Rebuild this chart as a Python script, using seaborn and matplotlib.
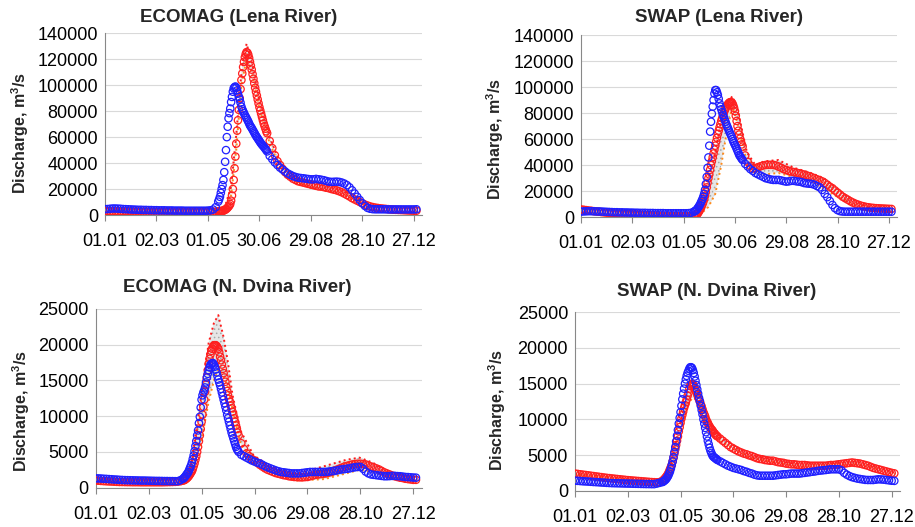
import matplotlib
matplotlib.use("Agg")
import matplotlib.pyplot as plt
import seaborn as sns

# ---------------- data ----------------
# sampling days: every 3rd day, daily around the flood peak
lena_days = list(range(1, 131, 3)) + list(range(133, 191)) + list(range(193, 365, 3))
dvina_days = list(range(1, 98, 3)) + list(range(100, 164)) + list(range(166, 365, 3))

tick_days = [1, 61, 121, 181, 241, 301, 361]
tick_labels = ["01.01", "02.03", "01.05", "30.06", "29.08", "28.10", "27.12"]

titles = ["ECOMAG (Lena River)", "SWAP (Lena River)",
          "ECOMAG (N. Dvina River)", "SWAP (N. Dvina River)"]

# ECOMAG, Lena
lena_ecomag_obs = [
    4500, 4600, 4800, 5000, 5000, 4900, 4800, 4600, 4500, 4400, 4300, 4200, 4100, 4000,
    4000, 3900, 3900, 3800, 3800, 3700, 3700, 3600, 3600, 3600, 3500, 3500, 3500, 3400,
    3400, 3400, 3400, 3300, 3300, 3300, 3300, 3300, 3300, 3300, 3300, 3300,
    3400, 3600, 4200, 6000,
    10300, 12000, 14000, 17000, 20000, 23000, 27000, 33000, 41000, 50000,
    60000, 68000, 74500, 78500, 82000, 87000, 91000, 95000, 97600, 98500,
    99000, 98000, 96000, 93500, 91000, 89000, 86500, 83500, 81500, 80000,
    78500, 77000, 75800, 74600, 73300, 72000, 70500, 69000, 68000, 67000,
    65800, 64600, 63400, 62200, 61000, 60000, 59000, 58000, 57000, 56000,
    55000, 54200, 53400, 52700, 51800, 50900, 50000, 49000,
    45500, 43000, 40500, 38500, 36500, 35000,
    33500, 32000, 31000, 30000, 29300, 28800, 28500, 28300, 28000, 27700,
    27500, 27500, 27800, 27500, 27200, 26800, 26200, 25700, 25500, 25600,
    25700, 25500, 25000, 24200, 23000, 21300, 19000, 16500, 14000, 11500,
    9000, 7000, 5500, 4800,
    4500, 4400, 4400, 4400, 4400, 4400, 4300, 4300, 4300, 4300, 4300, 4300, 4300, 4300,
    4300, 4300, 4300, 4400]
lena_ecomag_sim = [
    3200, 3100, 3000, 3000, 2900, 2900, 2800, 2800, 2700, 2700, 2700, 2600, 2600, 2600,
    2600, 2500, 2500, 2500, 2500, 2500, 2400, 2400, 2400, 2400, 2400, 2400, 2400, 2400,
    2400, 2400, 2400, 2400, 2400, 2400, 2400, 2400, 2400, 2400, 2400, 2400,
    2400, 2400, 2500, 2600,
    2800, 2900, 3000, 3000, 3100, 3200, 3400, 3700, 4000, 4500,
    5000, 5700, 6500, 7300, 8500, 11000, 15000, 20000, 27000, 36000,
    45000, 55000, 65000, 73000, 81000, 90000, 97000, 104000, 109000, 114000,
    118000, 121500, 124000, 125500, 125000, 123500, 121000, 118000, 115000, 112000,
    108500, 105000, 101500, 98000, 95000, 92000, 89000, 86000, 83000, 80500,
    78000, 75500, 73000, 70500, 68500, 66500, 64500, 63000,
    57000, 51500, 46000, 41500, 38500, 35500,
    33000, 31000, 29500, 28000, 27000, 26000, 25500, 25000, 24500, 24000,
    23500, 23000, 22500, 22000, 22000, 21500, 21000, 20600, 20000, 19500,
    19000, 18300, 17500, 16500, 15400, 14300, 13000, 12000, 11000, 10000,
    9000, 8000, 7300, 6600, 6100, 5700, 5400, 5100, 4900, 4700,
    4500, 4300, 4100, 4000, 3900, 3800, 3700, 3600, 3500, 3400, 3300, 3300]
lena_ecomag_band_days = [1, 121, 136, 142, 148, 154, 160, 166, 172, 181, 193, 205, 220,
                         240, 260, 280, 295, 310, 330, 365]
lena_ecomag_upper = [3500, 2800, 4000, 9000, 22000, 62000, 110000, 132000, 118000, 88000,
                     60000, 40000, 29000, 25000, 22000, 18500, 12500, 7000, 4800, 3500]
lena_ecomag_lower = [2800, 2200, 3000, 6000, 15000, 50000, 100000, 120000, 110000, 82000,
                     55000, 37000, 26500, 21000, 18500, 15500, 10500, 6000, 4200, 3000]

# SWAP, Lena
lena_swap_obs = [
    4400, 4500, 4600, 4700, 4700, 4600, 4500, 4500, 4400, 4300, 4200, 4100, 4000, 3900,
    3900, 3800, 3800, 3700, 3700, 3600, 3600, 3500, 3500, 3400, 3400, 3400, 3300, 3300,
    3300, 3200, 3200, 3200, 3200, 3100, 3100, 3100, 3100, 3100, 3100, 3100,
    3100, 3100, 3200, 3500,
    4300, 4700, 5100, 5600, 6500, 7500, 8500, 9500, 11000, 12500,
    14000, 15800, 18000, 21000, 25500, 31000, 38000, 46000, 55000, 65800,
    73400, 79500, 85000, 90000, 95000, 97700, 97700, 96000, 94000, 91000,
    87500, 85000, 83000, 80800, 78600, 76800, 75000, 73300, 71500, 69800,
    68200, 66600, 65000, 63500, 62000, 60200, 58500, 57000, 55600, 54300,
    52700, 51100, 49500, 47900, 46900, 45900, 44900, 44000,
    41000, 39000, 37000, 35600, 34000, 33000,
    32000, 31000, 30000, 29500, 29000, 28700, 28700, 28700, 28300, 27800,
    27400, 27600, 28000, 28000, 27600, 27400, 27000, 26300, 26000, 25800,
    25600, 25000, 24000, 23000, 21000, 18000, 15500, 12500, 9500, 7000,
    5500, 4700, 4400, 4300, 4300, 4300, 4300, 4300, 4300, 4300,
    4300, 4300, 4300, 4300, 4300, 4300, 4300, 4300, 4300, 4300, 4300, 4300]
lena_swap_sim = [
    6000, 5800, 5500, 5200, 5000, 4700, 4500, 4300, 4000, 3800, 3600, 3400, 3200, 3000,
    2900, 2800, 2700, 2600, 2500, 2400, 2300, 2200, 2100, 2000, 1900, 1800, 1700, 1600,
    1500, 1400, 1300, 1200, 1100, 1000, 1000, 900, 900, 800, 800, 800,
    800, 800, 800, 900,
    1200, 1300, 1500, 1800, 2500, 3400, 4500, 5600, 7000, 8500,
    10000, 12000, 14000, 16500, 19500, 23000, 26500, 30000, 33000, 36500,
    40000, 43000, 46000, 49000, 52000, 55000, 58000, 61000, 64000, 66500,
    69000, 71500, 74000, 76000, 78000, 80000, 82000, 83500, 85000, 86000,
    87000, 87800, 88300, 88500, 88300, 87500, 86000, 84000, 81500, 78000,
    74000, 70000, 66500, 63500, 60500, 58000, 56000, 54300,
    47500, 42500, 39500, 37600, 37600, 38500,
    39200, 39800, 40200, 40300, 40300, 40200, 39800, 39000, 38000, 37000,
    36300, 35600, 35100, 34700, 34300, 33800, 33300, 32800, 32200, 31500,
    30800, 30000, 29200, 28500, 27600, 26400, 25000, 23500, 22300, 20600,
    19000, 17400, 15800, 14600, 13500, 12300, 11300, 10400, 9700, 9000,
    8500, 8000, 7700, 7400, 7200, 7000, 6900, 6800, 6700, 6600, 6500, 6400]
lena_swap_band_days = [1, 130, 140, 150, 158, 165, 172, 178, 185, 195, 205, 215, 232,
                       250, 270, 285, 300, 315, 335, 365]
lena_swap_upper = [6500, 1500, 6500, 30000, 50000, 75000, 88000, 93000, 80000, 50000,
                   40000, 43000, 44000, 38000, 34000, 30000, 22000, 15000, 8000, 5500]
lena_swap_lower = [5000, 800, 2000, 8000, 18000, 40000, 68000, 85000, 70000, 42000,
                   33000, 33000, 34000, 31000, 28000, 22000, 16000, 11000, 6000, 4500]

# ECOMAG, N. Dvina
dvina_ecomag_obs = [
    1300, 1300, 1280, 1250, 1230, 1200, 1180, 1150, 1130, 1100, 1080, 1060, 1050, 1040,
    1030, 1020, 1010, 1000, 1000, 990, 980, 970, 960, 950, 950, 940, 930, 930, 920, 920,
    910, 910, 1050,
    1250, 1350, 1500, 1650, 1850, 2000, 2200, 2500, 2800, 3100,
    3500, 4000, 4500, 5100, 5800, 6500, 7300, 8000, 9000, 9900,
    11200, 12300, 12900, 13300, 13600, 14000, 14700, 15400, 15900, 16400,
    16800, 17100, 17300, 17400, 17400, 17200, 16900, 16500, 16100, 15600,
    15100, 14700, 14300, 13800, 13300, 12800, 12300, 11800, 11300, 10800,
    10200, 9700, 9200, 8700, 8200, 7700, 7300, 6900, 6500, 6100,
    5700, 5400, 5200, 5000,
    4600, 4400, 4200, 4000, 3800,
    3650, 3500, 3400, 3200, 3000, 2850, 2700, 2560, 2420, 2300,
    2200, 2150, 2100, 2050, 2000, 2000, 2000, 2000, 2050, 2100,
    2150, 2200, 2200, 2200, 2200, 2200, 2200, 2200, 2250, 2300,
    2350, 2400, 2500, 2550, 2600, 2650, 2700, 2800, 2850, 2900,
    2900, 2650, 2250, 2000, 1850, 1800, 1750, 1700, 1650, 1600,
    1600, 1620, 1650, 1650, 1620, 1600, 1550, 1500, 1480, 1450, 1420, 1400]
dvina_ecomag_sim = [
    1000, 980, 950, 920, 900, 880, 860, 840, 820, 800, 800, 790, 780, 780,
    770, 770, 770, 760, 760, 760, 760, 760, 760, 760, 760, 760, 770, 780, 790, 800,
    820, 850, 900,
    1000, 1050, 1100, 1200, 1300, 1400, 1550, 1700, 1900, 2100,
    2300, 2600, 3000, 3400, 3900, 4400, 5000, 5700, 6500, 7300,
    8200, 9200, 10200, 11300, 12300, 13400, 14400, 15400, 16400, 17300,
    18000, 18600, 19100, 19400, 19700, 19900, 19900, 19900, 19800, 19600,
    19400, 18900, 18300, 17800, 17200, 16600, 16000, 15400, 14800, 14100,
    13500, 12900, 12400, 12000, 11500, 11100, 10600, 10200, 9700, 9200,
    8700, 8200, 7700, 7300,
    6200, 5400, 4800, 4400, 4000,
    3800, 3500, 3200, 2950, 2700, 2500, 2350, 2200, 2050, 1950,
    1850, 1750, 1700, 1600, 1550, 1500, 1480, 1450, 1450, 1480,
    1500, 1600, 1700, 1800, 1850, 1900, 1950, 2000, 2100, 2200,
    2350, 2500, 2650, 2800, 2950, 3050, 3150, 3250, 3300, 3350,
    3350, 3300, 3250, 3100, 2950, 2850, 2700, 2550, 2350, 2150,
    2000, 1850, 1700, 1600, 1500, 1400, 1350, 1250, 1200, 1150, 1100, 1100]
dvina_ecomag_band_days = [1, 100, 108, 116, 123, 129, 135, 140, 146, 151, 156, 165, 180,
                          200, 230, 260, 285, 300, 315, 335, 365]
dvina_ecomag_upper = [1200, 1000, 2500, 9000, 15000, 20200, 23000, 24100, 21000, 17400,
                      13000, 8000, 4500, 2900, 2000, 3000, 3900, 4200, 3500, 2000, 1200]
dvina_ecomag_lower = [800, 700, 1500, 4000, 8000, 12000, 15000, 16500, 15500, 14000,
                      11000, 6200, 3500, 2000, 1000, 1200, 2000, 2500, 2200, 1500, 1000]

# SWAP, N. Dvina
dvina_swap_obs = [
    1400, 1380, 1350, 1320, 1300, 1280, 1250, 1220, 1200, 1180, 1150, 1130, 1100, 1080,
    1060, 1050, 1040, 1030, 1020, 1010, 1000, 990, 980, 970, 960, 950, 940, 930, 930,
    920, 920, 1000, 1100,
    1200, 1250, 1350, 1450, 1550, 1700, 1900, 2100, 2400, 2700,
    3100, 3600, 4100, 4700, 5400, 6100, 6900, 7700, 8500, 9400,
    10200, 11000, 11900, 12800, 13600, 14300, 15000, 15600, 16100, 16500,
    16800, 17100, 17300, 17300, 17200, 16900, 16500, 16000, 15400, 14800,
    14200, 13600, 13000, 12500, 11900, 11300, 10700, 10000, 9400, 8800,
    8200, 7600, 7000, 6500, 6000, 5600, 5300, 5000, 4800, 4700,
    4600, 4500, 4400, 4300,
    4100, 3900, 3700, 3500, 3350,
    3200, 3100, 3000, 2900, 2750, 2650, 2500, 2400, 2250, 2150,
    2100, 2100, 2100, 2100, 2100, 2100, 2150, 2200, 2250, 2300,
    2300, 2350, 2400, 2400, 2400, 2400, 2450, 2500, 2550, 2600,
    2660, 2700, 2780, 2820, 2860, 2900, 2950, 3000, 3000, 3000,
    3000, 2850, 2500, 2250, 2050, 1900, 1800, 1700, 1640, 1580,
    1520, 1500, 1500, 1500, 1550, 1600, 1580, 1550, 1500, 1450, 1400, 1380]
dvina_swap_sim = [
    2400, 2350, 2300, 2250, 2200, 2150, 2100, 2050, 2000, 1950, 1900, 1850, 1800, 1760,
    1720, 1680, 1640, 1600, 1560, 1520, 1480, 1450, 1420, 1390, 1360, 1330, 1300, 1270,
    1240, 1210, 1190, 1170, 1200,
    1350, 1450, 1550, 1700, 1850, 2000, 2200, 2400, 2700, 3000,
    3300, 3600, 4100, 4600, 5200, 5800, 6400, 7000, 7600, 8300,
    8900, 9500, 10100, 10600, 11100, 11600, 12000, 12400, 12800, 13300,
    13700, 14300, 14700, 14900, 15000, 14900, 14700, 14400, 14100, 13900,
    13500, 13100, 12800, 12500, 12100, 11800, 11400, 11000, 10700, 10400,
    10000, 9700, 9500, 9200, 9000, 8800, 8600, 8500, 8300, 8100,
    8000, 7800, 7700, 7600,
    7300, 7000, 6700, 6400, 6100,
    5900, 5700, 5500, 5350, 5200, 5100, 4950, 4850, 4700, 4550,
    4450, 4400, 4300, 4250, 4200, 4200, 4100, 4000, 3950, 3900,
    3800, 3750, 3700, 3700, 3650, 3600, 3600, 3600, 3550, 3500,
    3500, 3500, 3500, 3500, 3500, 3500, 3550, 3600, 3600, 3650,
    3700, 3750, 3800, 3850, 3900, 3950, 3900, 3850, 3800, 3700,
    3600, 3500, 3350, 3200, 3100, 3000, 2900, 2800, 2700, 2600, 2500, 2430]
dvina_swap_band_days = [1, 100, 110, 120, 128, 134, 140, 150, 165, 200, 250, 300, 320,
                        340, 365]
dvina_swap_upper = [2400, 1200, 3800, 9000, 13500, 15500, 14200, 10500, 7600, 5000, 3800,
                    3900, 4100, 3500, 2500]
dvina_swap_lower = [2200, 1100, 3000, 7500, 11500, 13000, 12800, 9500, 7000, 4600, 3500,
                    3500, 3700, 3200, 2300]

# ---------------- style ----------------
sns.set_theme(style="white")
plt.rcParams["font.family"] = ["Liberation Sans", "DejaVu Sans"]
plt.rcParams["mathtext.fontset"] = "custom"
plt.rcParams["mathtext.rm"] = "Liberation Sans"
plt.rcParams["mathtext.bf"] = "Liberation Sans:bold"
plt.rcParams["hatch.linewidth"] = 0.6

OBS_COLOR = "#2020ff"
SIM_COLOR = "#ff2020"
UP_COLOR = "#ff1a1a"
LO_COLOR = "#ff8a1a"

W, H = 915, 527


def rect(left, right, top, bottom):
    return [left / W, 1 - bottom / H, (right - left) / W, (bottom - top) / H]


panels = [
    dict(title=titles[0], x=lena_days, obs=lena_ecomag_obs, sim=lena_ecomag_sim,
         bd=lena_ecomag_band_days, up=lena_ecomag_upper, lo=lena_ecomag_lower,
         ymax=140000, ystep=20000, rect=rect(105, 422, 33.3, 215),
         title_xy=(239, 17), ylab=(-0.233, 0.45)),
    dict(title=titles[1], x=lena_days, obs=lena_swap_obs, sim=lena_swap_sim,
         bd=lena_swap_band_days, up=lena_swap_upper, lo=lena_swap_lower,
         ymax=140000, ystep=20000, rect=rect(581, 897, 35, 217.3),
         title_xy=(719, 17), ylab=(-0.236, 0.43)),
    dict(title=titles[2], x=dvina_days, obs=dvina_ecomag_obs, sim=dvina_ecomag_sim,
         bd=dvina_ecomag_band_days, up=dvina_ecomag_upper, lo=dvina_ecomag_lower,
         ymax=25000, ystep=5000, rect=rect(95.7, 421.7, 308.7, 487.7),
         title_xy=(237, 287), ylab=(-0.196, 0.43)),
    dict(title=titles[3], x=dvina_days, obs=dvina_swap_obs, sim=dvina_swap_sim,
         bd=dvina_swap_band_days, up=dvina_swap_upper, lo=dvina_swap_lower,
         ymax=25000, ystep=5000, rect=rect(575, 900, 312.3, 490.7),
         title_xy=(717, 292), ylab=(-0.207, 0.45)),
]

fig = plt.figure(figsize=(W / 100, H / 100), dpi=100)

for p in panels:
    ax = fig.add_axes(p["rect"])
    ax.fill_between(p["bd"], p["lo"], p["up"], facecolor="#e6e6e6",
                    edgecolor="#a8a8a8", hatch="....", linewidth=0, zorder=1)
    sns.lineplot(x=p["bd"], y=p["up"], ax=ax, color=UP_COLOR, linestyle=":",
                 linewidth=1.4, zorder=2)
    sns.lineplot(x=p["bd"], y=p["lo"], ax=ax, color=LO_COLOR, linestyle=":",
                 linewidth=1.4, zorder=2)
    sns.scatterplot(x=p["x"], y=p["sim"], ax=ax, marker="o", s=28, facecolor="none",
                    edgecolor=SIM_COLOR, linewidth=0.9, zorder=3)
    sns.scatterplot(x=p["x"], y=p["obs"], ax=ax, marker="o", s=28, facecolor="none",
                    edgecolor=OBS_COLOR, linewidth=0.9, zorder=4)

    ax.set_xlim(1, 370.5)
    ax.set_ylim(0, p["ymax"])
    yt = list(range(0, p["ymax"] + 1, p["ystep"]))
    ax.set_yticks(yt)
    ax.set_yticklabels([str(v) for v in yt])
    ax.set_xticks(tick_days)
    ax.set_xticklabels(tick_labels)
    ax.tick_params(axis="x", bottom=True, length=4, width=0.8, color="#888888",
                   pad=9, labelsize=13, labelcolor="black")
    ax.tick_params(axis="y", left=False, length=0, pad=5, labelsize=13,
                   labelcolor="black")
    ax.grid(axis="y", color="#d9d9d9", linewidth=0.8)
    ax.grid(axis="x", visible=False)
    ax.set_axisbelow(True)
    for s in ["top", "right"]:
        ax.spines[s].set_visible(False)
    for s in ["left", "bottom"]:
        ax.spines[s].set_color("#888888")
        ax.spines[s].set_linewidth(0.8)
    ax.set_xlabel("")
    ax.set_ylabel(r"Discharge, m$^{\mathbf{3}}$/s", fontsize=11.5, fontweight="bold")
    ax.yaxis.set_label_coords(*p["ylab"])
    fig.text(p["title_xy"][0] / W, 1 - p["title_xy"][1] / H, p["title"],
             ha="center", va="center", fontsize=13.5, fontweight="bold")

fig.savefig("out.png", dpi=100, facecolor="white")
